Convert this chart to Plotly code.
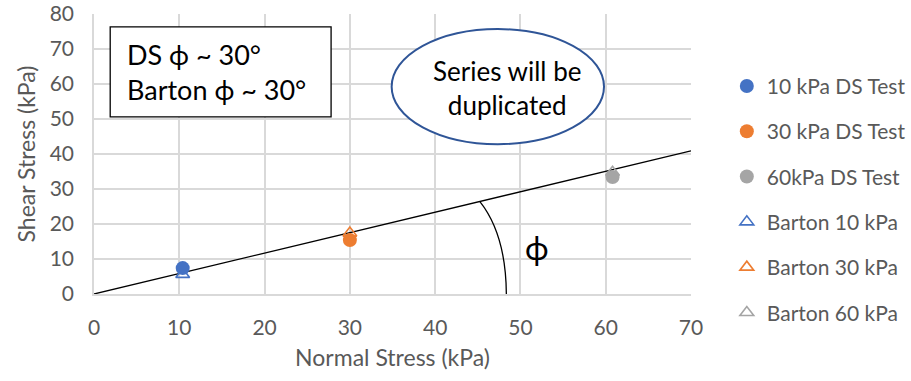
import plotly.graph_objects as go

# Data
names = ["10 kPa DS Test", "30 kPa DS Test", "60kPa DS Test",
         "Barton 10 kPa", "Barton 30 kPa", "Barton 60 kPa"]
normal_stress = [10.4, 30.0, 60.8, 10.4, 30.0, 60.8]
shear_stress = [7.4, 15.4, 33.4, 5.6, 17.4, 34.8]
symbols = ["circle", "circle", "circle",
           "triangle-up-open", "triangle-up-open", "triangle-up-open"]
colors = ["#4472C4", "#ED7D31", "#A5A5A5", "#4472C4", "#ED7D31", "#A5A5A5"]

fit_x = [0, 70]
fit_y = [0, 40.9]

FONT = "Lato, 'Open Sans', sans-serif"
GREY = "#595959"

fig = go.Figure()
fig.add_trace(go.Scatter(x=fit_x, y=fit_y, mode="lines",
                         line=dict(color="black", width=1.3),
                         showlegend=False, hoverinfo="skip"))
# draw triangles first so the filled circles sit on top; legend keeps original order
order = [3, 4, 5, 0, 1, 2]
for i in order:
    n = names[i]
    is_circle = symbols[i] == "circle"
    fig.add_trace(go.Scatter(
        x=[normal_stress[i]], y=[shear_stress[i]], mode="markers", name=n,
        legendgroup=n, legendrank=100 + i,
        marker=dict(symbol=symbols[i], color=colors[i],
                    size=14 if is_circle else 12,
                    line=dict(width=1.6, color=colors[i]) if not is_circle else dict(width=0)),
        cliponaxis=False))

# angle arc
fig.add_shape(type="path", xref="x", yref="y",
              path="M 45.25 26.4 Q 48.3 17.0 48.35 0",
              line=dict(color="black", width=1.3))
fig.add_annotation(x=52.0, y=13.3, xref="x", yref="y", text="ϕ", showarrow=False,
                   font=dict(family=FONT, size=32, color="black"))

# text box
fig.add_shape(type="rect", xref="x", yref="y", x0=1.9, x1=27.8, y0=50.6, y1=76.3,
              line=dict(color="black", width=1.3), fillcolor="white", layer="above")
fig.add_annotation(x=3.6, y=63.3, xref="x", yref="y", xanchor="left",
                   text="DS ϕ ~ 30°<br>Barton ϕ ~ 30°", align="left", showarrow=False,
                   font=dict(family=FONT, size=27, color="black"))

# ellipse
fig.add_shape(type="circle", xref="x", yref="y", x0=34.9, x1=59.8, y0=42.8, y1=75.7,
              line=dict(color="#2F5597", width=2), fillcolor="white", layer="above")
fig.add_annotation(x=48.4, y=59.0, xref="x", yref="y",
                   text="Series will be<br>duplicated", showarrow=False,
                   font=dict(family=FONT, size=26, color="black"))

fig.update_layout(
    width=911, height=381,
    margin=dict(l=94, r=220, t=14, b=87, autoexpand=False),
    plot_bgcolor="white", paper_bgcolor="white",
    font=dict(family=FONT, color=GREY, size=21),
    legend=dict(x=1.06, y=0.815, xanchor="left", yanchor="top",
                font=dict(size=21, color=GREY), tracegroupgap=15,
                traceorder="grouped", itemwidth=30, maxheight=1.0),
)
fig.update_xaxes(range=[0, 70], dtick=10, showgrid=True, gridcolor="#D9D9D9", gridwidth=1.5,
                 zeroline=False, showline=True, linecolor="#D9D9D9", linewidth=1.5,
                 ticks="", ticklabelstandoff=14, tickfont=dict(size=21),
                 title=dict(text="Normal Stress (kPa)", font=dict(size=23, color=GREY), standoff=12),
                 mirror=False)
fig.update_yaxes(range=[0, 80], dtick=10, showgrid=True, gridcolor="#D9D9D9", gridwidth=1.5,
                 zeroline=False, showline=True, linecolor="#D9D9D9", linewidth=1.5,
                 ticks="", ticklabelstandoff=14, tickfont=dict(size=21),
                 title=dict(text="Shear Stress (kPa)", font=dict(size=23, color=GREY), standoff=8))

fig.write_html("out.html")
